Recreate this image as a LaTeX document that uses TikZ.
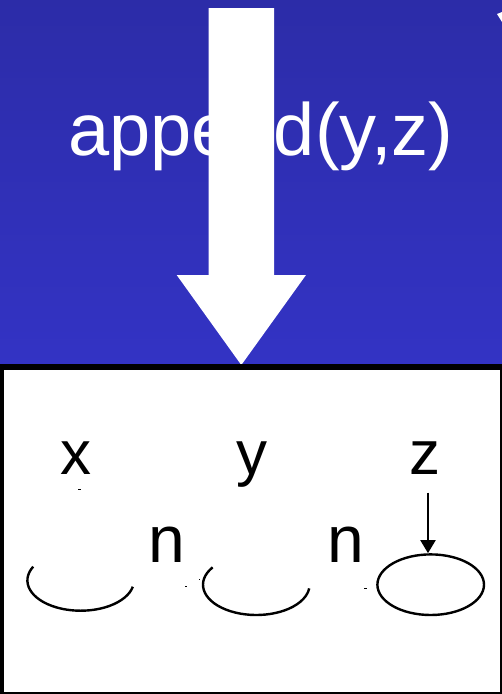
\documentclass[tikz,border=0pt]{standalone}
\usepackage{fontspec}
\setmainfont{Liberation Sans}
\usetikzlibrary{arrows.meta,shapes.geometric}
\definecolor{bluetop}{RGB}{44,44,168}
\definecolor{bluebot}{RGB}{51,51,196}
\tikzset{
  lbl/.style={anchor=base,inner sep=0pt,font=\fontsize{62}{62}\selectfont},
  nlbl/.style={anchor=base,inner sep=0pt,font=\fontsize{66}{66}\selectfont},
  cell/.style={line width=2.4pt},
  ptr/.style={line width=2pt,-{Triangle[length=13pt,width=15pt]}},
}
\begin{document}
\begin{tikzpicture}[x=1pt,y=-1pt]
\useasboundingbox (0,0) rectangle (502,694);
% blue panel
\shade[top color=bluetop,bottom color=bluebot] (0,0) rectangle (502,364);
% title text (behind arrow)
\node[anchor=base west,inner sep=0pt,text=white,font=\fontsize{74}{74}\selectfont] (title) at (68,155) {append(y,z)};
% big white arrow
\fill[white] (208.7,8) -- (274,8) -- (274,275) -- (306,275) -- (241.3,365) -- (176.7,275) -- (208.7,275) -- cycle;
% tiny white mark top right
\fill[white] (497,14) -- (502,12) -- (502,22) -- cycle;
% lower box
\fill[black] (0,364) rectangle (502,694);
\fill[white] (4,370) rectangle (500,692);
% labels
\node[lbl] (x) at (75.5,474) {x};
\node[lbl] (y) at (251.5,474) {y};
\node[lbl] (z) at (425,474) {z};
\node[nlbl] (n1) at (167,562.7) {n};
\node[nlbl] (n2) at (346,562.7) {n};
% cells
\draw[cell] (80.7,580.4) ++(153:53.3 and -30.3) arc[start angle=153,end angle=348,x radius=53.3,y radius=-30.3];
\draw[cell] (256.3,584.7) ++(145:53.3 and -30.3) arc[start angle=145,end angle=353,x radius=53.3,y radius=-30.3];
\node[draw,cell,ellipse,minimum width=106.6pt,minimum height=60.6pt,inner sep=0pt] (e3) at (430.7,584.7) {};
% pointer from z
\coordinate (zs) at (428,492.7);
\draw[ptr] (zs) -- (zs |- e3.north);
% tiny remnants
\fill[black] (78,488.5) rectangle (81,489.5);
\fill[black] (185,586.3) rectangle (187,587.3);
\fill[black] (198.5,578.5) rectangle (200,580);
\fill[black] (364,587.5) rectangle (366.5,588.5);
\end{tikzpicture}
\end{document}
